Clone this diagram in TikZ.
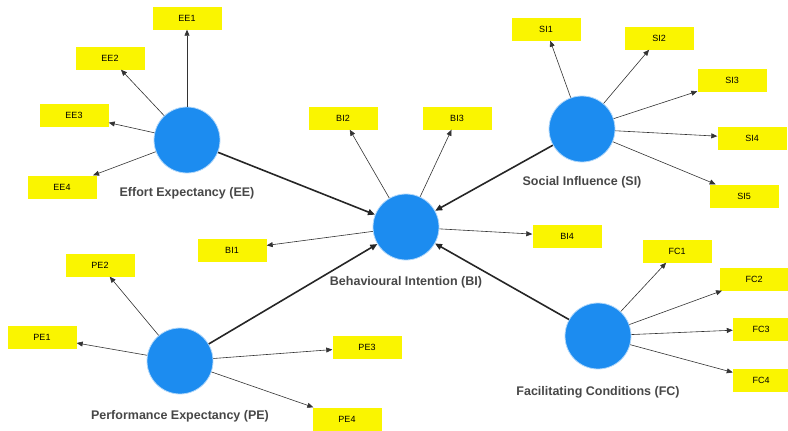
\documentclass[tikz,border=0pt]{standalone}
\usepackage{fontspec}
\setmainfont{Liberation Sans}
\usetikzlibrary{arrows.meta, positioning}
\definecolor{lvblue}{RGB}{28,140,240}
\definecolor{mvyellow}{RGB}{250,245,0}

\begin{document}
\begin{tikzpicture}[x=1pt, y=-1pt,
    latent/.style={circle, fill=lvblue, draw=lvblue!35, line width=0.8pt, minimum size=66pt, inner sep=0pt},
    indicator/.style={rectangle, fill=mvyellow, minimum width=69pt, minimum height=23pt, inner sep=0pt, font=\fontsize{9}{10}\selectfont},
    lvname/.style={font=\bfseries\fontsize{12.5}{14}\selectfont, text=black!72, inner sep=1pt},
    loading/.style={-{Triangle[length=6pt,width=5pt]}, draw=black!80, line width=0.6pt},
    structural/.style={-{Triangle[length=7pt,width=6pt]}, draw=black!85, line width=1.6pt}
  ]
      \useasboundingbox (0, 0) rectangle (788, 431);

      % constructs
      \node[latent] (ee) at (187, 140) {};
      \node[latent] (bi) at (406, 227) {};
      \node[latent] (si) at (582, 129) {};
      \node[latent] (pe) at (180, 361) {};
      \node[latent] (fc) at (598, 336) {};

      \node[lvname, below=13pt of ee] (eename) {Effort Expectancy (EE)};
      \node[lvname, below=15pt of bi] (biname) {Behavioural Intention (BI)};
      \node[lvname, below=13pt of si] (siname) {Social Influence (SI)};
      \node[lvname, below=15pt of pe] (pename) {Performance Expectancy (PE)};
      \node[lvname, below=16pt of fc] (fcname) {Facilitating Conditions (FC)};

      % indicators
      \node[indicator] (ee1) at (187, 18) {EE1};
      \node[indicator] (ee2) at (110, 58) {EE2};
      \node[indicator] (ee3) at (74, 115) {EE3};
      \node[indicator] (ee4) at (62, 187) {EE4};

      \node[indicator] (bi1) at (232, 250) {BI1};
      \node[indicator] (bi2) at (343, 118) {BI2};
      \node[indicator] (bi3) at (457, 118) {BI3};
      \node[indicator] (bi4) at (567, 236) {BI4};

      \node[indicator] (si1) at (546, 29) {SI1};
      \node[indicator] (si2) at (659, 38) {SI2};
      \node[indicator] (si3) at (732, 80) {SI3};
      \node[indicator] (si4) at (752, 138) {SI4};
      \node[indicator] (si5) at (744, 196) {SI5};

      \node[indicator] (pe1) at (42, 337) {PE1};
      \node[indicator] (pe2) at (100, 265) {PE2};
      \node[indicator] (pe3) at (367, 347) {PE3};
      \node[indicator] (pe4) at (347, 419) {PE4};

      \node[indicator] (fc1) at (677, 251) {FC1};
      \node[indicator] (fc2) at (754, 279) {FC2};
      \node[indicator, minimum width=56pt] (fc3) at (761, 329) {FC3};
      \node[indicator, minimum width=56pt] (fc4) at (761, 380) {FC4};

      % outer loadings
      \foreach \i in {1,...,4} {
        \draw[loading] (ee) -- (ee\i);
        \draw[loading] (bi) -- (bi\i);
        \draw[loading] (pe) -- (pe\i);
        \draw[loading] (fc) -- (fc\i);
      }
      \foreach \i in {1,...,5} {
        \draw[loading] (si) -- (si\i);
      }

      % inner model
      \draw[structural] (ee) -- (bi);
      \draw[structural] (si) -- (bi);
      \draw[structural] (pe) -- (bi);
      \draw[structural] (fc) -- (bi);

\end{tikzpicture}
\end{document}
